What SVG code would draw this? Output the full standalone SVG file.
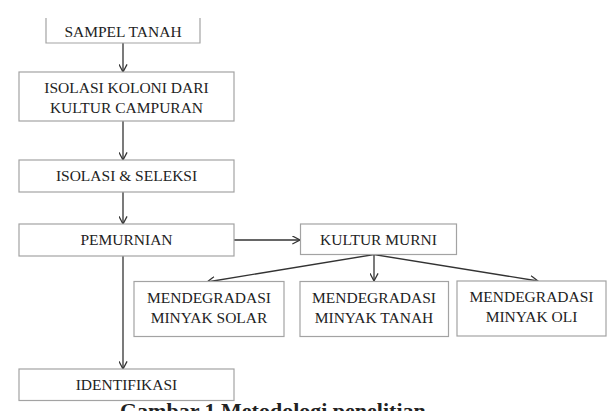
<svg xmlns="http://www.w3.org/2000/svg" width="614" height="411" viewBox="0 0 614 411">
<style>
.box{fill:#fff;stroke:#a3a3a3;stroke-width:1.2}
.t{font-family:"Liberation Serif","Times New Roman",serif;font-size:15.5px;fill:#222;text-anchor:middle}
.c{fill:none;stroke:#333;stroke-width:1.3}
.cap{font-family:"Liberation Serif","Times New Roman",serif;font-size:22px;font-weight:bold;fill:#222}
</style>
<defs>
<marker id="ah" viewBox="0 0 10 10" refX="9.5" refY="5" markerWidth="9" markerHeight="9" markerUnits="userSpaceOnUse" orient="auto">
<path d="M1,0.5 L9.5,5 L1,9.5" fill="none" stroke="#333" stroke-width="1.4"/>
</marker>
</defs>
<rect width="614" height="411" fill="#fff"/>
<g id="connectors">
<line class="c" x1="123" y1="43" x2="123" y2="72" marker-end="url(#ah)"/>
<line class="c" x1="123" y1="121" x2="123" y2="160" marker-end="url(#ah)"/>
<line class="c" x1="123" y1="192" x2="123" y2="224" marker-end="url(#ah)"/>
<line class="c" x1="234" y1="240" x2="300" y2="240" marker-end="url(#ah)"/>
<line class="c" x1="374" y1="254.5" x2="207" y2="282" marker-end="url(#ah)"/>
<line class="c" x1="374" y1="254.5" x2="374" y2="281" marker-end="url(#ah)"/>
<line class="c" x1="374" y1="254.5" x2="538" y2="281" marker-end="url(#ah)"/>
<line class="c" x1="123" y1="256" x2="123" y2="369" marker-end="url(#ah)"/>
</g>
<g id="sampel">
<path class="box" d="M46,18 V43 H200 V18"/>
<text class="t" x="123" y="37">SAMPEL TANAH</text>
</g>
<g id="isolasi-koloni">
<rect class="box" x="19" y="72" width="215" height="49"/>
<text class="t" x="126.5" y="93">ISOLASI KOLONI DARI</text>
<text class="t" x="126.5" y="113">KULTUR CAMPURAN</text>
</g>
<g id="isolasi-seleksi">
<rect class="box" x="19" y="160" width="215" height="32"/>
<text class="t" x="126.5" y="181">ISOLASI &amp; SELEKSI</text>
</g>
<g id="pemurnian">
<rect class="box" x="19" y="224" width="215" height="32"/>
<text class="t" x="126.5" y="245">PEMURNIAN</text>
</g>
<g id="kultur-murni">
<rect class="box" x="300.5" y="224" width="156" height="30.5"/>
<text class="t" x="378.5" y="244.5">KULTUR MURNI</text>
</g>
<g id="solar">
<rect class="box" x="134" y="281.5" width="150" height="55"/>
<text class="t" x="209" y="303">MENDEGRADASI</text>
<text class="t" x="209" y="323">MINYAK SOLAR</text>
</g>
<g id="tanah">
<rect class="box" x="300" y="281.5" width="148.5" height="55"/>
<text class="t" x="374" y="303">MENDEGRADASI</text>
<text class="t" x="374" y="323">MINYAK TANAH</text>
</g>
<g id="oli">
<rect class="box" x="457" y="281" width="149" height="55"/>
<text class="t" x="531.5" y="302">MENDEGRADASI</text>
<text class="t" x="531.5" y="322">MINYAK OLI</text>
</g>
<g id="identifikasi">
<rect class="box" x="19" y="369" width="215" height="31.5"/>
<text class="t" x="126.5" y="390">IDENTIFIKASI</text>
</g>
<text class="cap" x="120" y="418">Gambar 1 Metodologi penelitian</text>
</svg>
